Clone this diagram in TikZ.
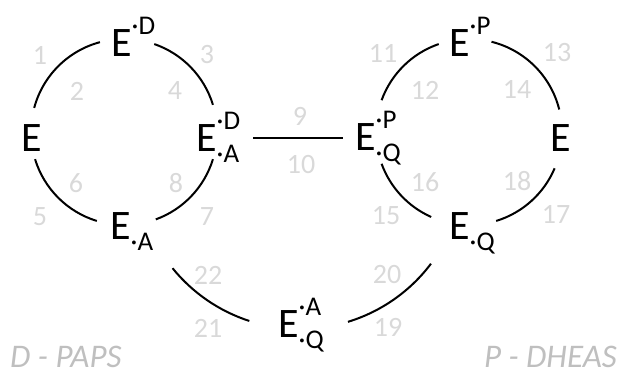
\documentclass[tikz,border=0pt]{standalone}
\usepackage{fontspec}
\setmainfont{Carlito}
\usetikzlibrary{calc}
\definecolor{numgray}{RGB}{217,217,217}
\definecolor{labgray}{RGB}{191,191,191}
\newcommand{\scr}{\fontsize{27}{27}\selectfont}
\newcommand{\stUp}[1]{E\raisebox{22pt}{\scr ·#1}}
\newcommand{\stDn}[1]{E\raisebox{-11pt}{\scr ·#1}}
\newcommand{\stBoth}[2]{E\rlap{\raisebox{22pt}{\scr ·#1}}\raisebox{-11pt}{\scr ·#2}}
\tikzset{
  st/.style={inner sep=0pt, anchor=base west, font=\fontsize{42}{42}\selectfont},
  num/.style={inner sep=0pt, text=numgray, font=\fontsize{28}{28}\selectfont},
  lab/.style={inner sep=0pt, text depth=0pt, text=labgray, font=\fontsize{33}{33}\selectfont\itshape},
  conn/.style={line width=2pt, black},
}
\begin{document}
\begin{tikzpicture}[x=1pt,y=1pt]
\useasboundingbox (0,0) rectangle (619,375);
% circle centres
\coordinate (cL) at (124,243);
\coordinate (cR) at (469,243);
\coordinate (cB) at (300,210);
% states
\node[st] (lE) at (21,223) {E};
\node[st] (lD) at (111,318) {\stUp{D}};
\node[st] (lDA) at (196,223) {\stBoth{D}{A}};
\node[st] (lA) at (110,135) {\stDn{A}};
\node[st] (rPQ) at (355,224) {\stBoth{P}{Q}};
\node[st] (rP) at (449,318) {\stUp{P}};
\node[st] (rE) at (550,223) {E};
\node[st] (rQ) at (449,135) {\stDn{Q}};
\node[st] (bAQ) at (278,37) {\stBoth{A}{Q}};
% connectors
\draw[conn] ([shift={(105:93)}]cL) arc[start angle=105, end angle=165, radius=93];
\draw[conn] ([shift={(17:93)}]cL) arc[start angle=17, end angle=71, radius=93];
\draw[conn] ([shift={(197:93)}]cL) arc[start angle=197, end angle=253, radius=93];
\draw[conn] ([shift={(290:93)}]cL) arc[start angle=290, end angle=343, radius=93];
\draw[conn] ([shift={(109:93)}]cR) arc[start angle=109, end angle=160, radius=93];
\draw[conn] ([shift={(14:93)}]cR) arc[start angle=14, end angle=76, radius=93];
\draw[conn] ([shift={(200:93)}]cR) arc[start angle=200, end angle=246, radius=93];
\draw[conn] ([shift={(287:93)}]cR) arc[start angle=287, end angle=337, radius=93];
\draw[conn] ([shift={(219:164)}]cB) arc[start angle=219, end angle=252, radius=164];
\draw[conn] ([shift={(287:164)}]cB) arc[start angle=287, end angle=323, radius=164];
\draw[conn] ($(lDA.base east)+(14,14)$) -- ($(rPQ.base west)+(-12,13)$);
% numbers
\node[num] (n1) at (40,320) {1};
\node[num] (n2) at (77,284) {2};
\node[num] (n3) at (207,320) {3};
\node[num] (n4) at (175,284) {4};
\node[num] (n5) at (40,158) {5};
\node[num] (n6) at (76,192) {6};
\node[num] (n7) at (207,158) {7};
\node[num] (n8) at (176,192) {8};
\node[num] (n9) at (300,259) {9};
\node[num] (n10) at (301,210) {10};
\node[num] (n11) at (383,322) {11};
\node[num] (n12) at (425,285) {12};
\node[num] (n13) at (557,322) {13};
\node[num] (n14) at (517,286) {14};
\node[num] (n15) at (386,159) {15};
\node[num] (n16) at (425,193) {16};
\node[num] (n17) at (556,161) {17};
\node[num] (n18) at (517,194) {18};
\node[num] (n19) at (388,48) {19};
\node[num] (n20) at (387,100) {20};
\node[num] (n21) at (208,47) {21};
\node[num] (n22) at (208,100) {22};
% labels
\node[lab, anchor=base west] (labL) at (10,7) {D - PAPS};
\node[lab, anchor=base east] (labR) at (617,7) {P - DHEAS};
\end{tikzpicture}
\end{document}
